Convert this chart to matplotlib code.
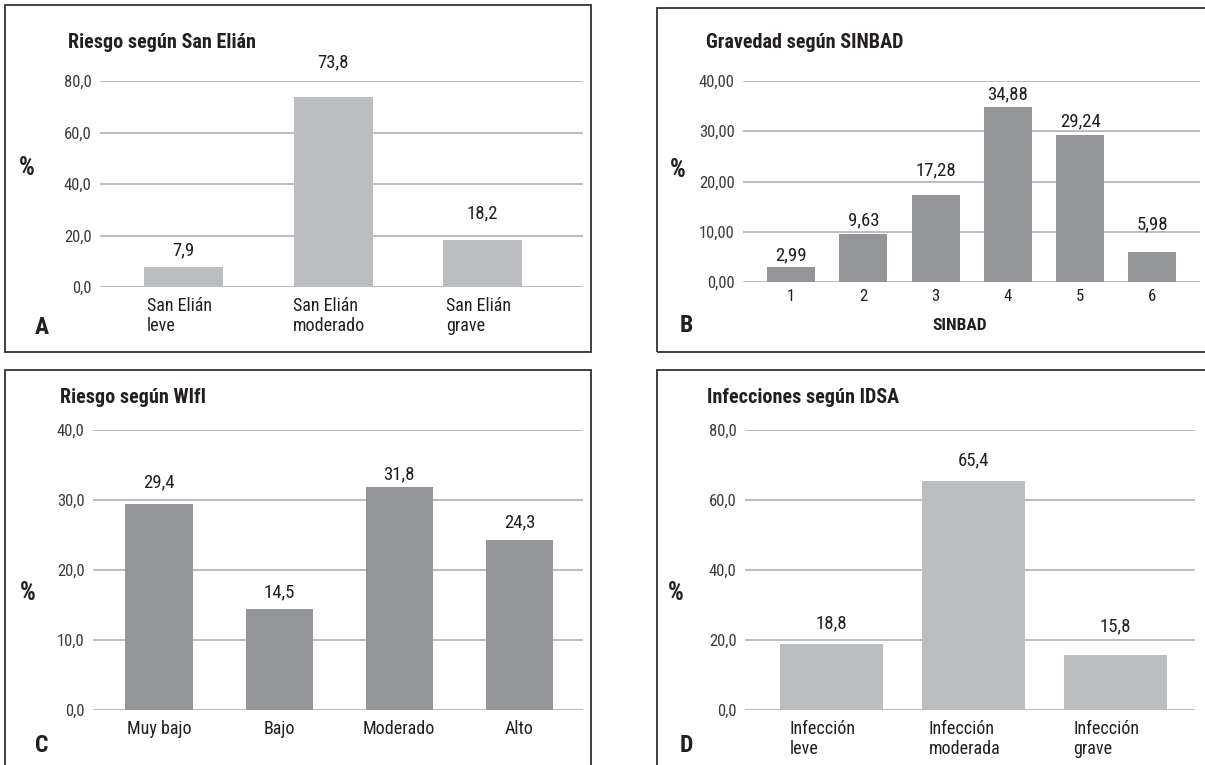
import matplotlib
matplotlib.use("Agg")
import matplotlib.pyplot as plt
from matplotlib.patches import Rectangle
from matplotlib.transforms import ScaledTranslation

plt.rcParams['font.family'] = ['Roboto Condensed', 'Roboto', 'DejaVu Sans']

# ---- data ----
a_title = "Riesgo según San Elián"
a_cats = ["San Elián\nleve", "San Elián\nmoderado", "San Elián\ngrave"]
a_vals = [7.9, 73.8, 18.2]
a_ticks = [0, 20, 40, 60, 80]

b_title = "Gravedad según SINBAD"
b_cats = ["1", "2", "3", "4", "5", "6"]
b_vals = [2.99, 9.63, 17.28, 34.88, 29.24, 5.98]
b_ticks = [0, 10, 20, 30, 40]
b_xlabel = "SINBAD"

c_title = "Riesgo según WIfI"
c_cats = ["Muy bajo", "Bajo", "Moderado", "Alto"]
c_vals = [29.4, 14.5, 31.8, 24.3]
c_ticks = [0, 10, 20, 30, 40]

d_title = "Infecciones según IDSA"
d_cats = ["Infección\nleve", "Infección\nmoderada", "Infección\ngrave"]
d_vals = [18.8, 65.4, 15.8]
d_ticks = [0, 20, 40, 60, 80]

# gap (px) between bar top and its value label, as laid out in the original
a_gaps = [16, 35, 27]
b_gaps = [12, 13, 25, 12, 14, 28]
c_gaps = [22, 16, 13, 18]
d_gaps = [21, 21, 28]

W, H = 1205, 765
fig = plt.figure(figsize=(W / 100, H / 100), dpi=100)

LIGHT = '#bcbdc0'
DARK = '#939598'
GRID = '#a7a9ac'
TXT = '#231f20'
TICK = '#3c3c3c'


def fr(x0, y0, x1, y1):
    return [x0 / W, 1 - y1 / H, (x1 - x0) / W, (y1 - y0) / H]


def box(x0, y0, x1, y1):
    fig.add_artist(Rectangle((x0 / W, 1 - y1 / H), (x1 - x0) / W, (y1 - y0) / H,
                             transform=fig.transFigure, fill=False,
                             edgecolor='#333333', linewidth=1.3))


def ftext(x, y, s, **kw):
    fig.text(x / W, 1 - y / H, s, color=TXT, **kw)


def panel(rect, cats, vals, ticks, color, width, xlim, decimals, gaps, xshift=0):
    ax = fig.add_axes(fr(*rect))
    x = list(range(len(cats)))
    ax.bar(x, vals, width=width, color=color, zorder=3)
    ax.set_xlim(*xlim)
    ax.set_ylim(ticks[0], ticks[-1])
    ax.set_yticks(ticks)
    ax.set_yticklabels([f"{t:.{decimals}f}".replace('.', ',') for t in ticks])
    ax.yaxis.grid(True, color=GRID, linewidth=1.1, zorder=0)
    ax.set_xticks(x)
    ax.set_xticklabels(cats, fontsize=13, color=TXT, multialignment='left',
                       linespacing=1.15)
    ax.tick_params(axis='y', length=0, pad=6, labelsize=12, labelcolor=TICK)
    ax.tick_params(axis='x', length=0, pad=7)
    if xshift:
        off = ScaledTranslation(xshift / 100, 0, fig.dpi_scale_trans)
        for lab in ax.get_xticklabels():
            lab.set_transform(lab.get_transform() + off)
    for s in ax.spines.values():
        s.set_visible(False)
    for xi, v, g in zip(x, vals, gaps):
        ax.annotate(f"{v:.{decimals}f}".replace('.', ','), (xi, v),
                    xytext=(0, g * 0.72), textcoords='offset points',
                    ha='center', va='center', fontsize=13.5, color=TXT,
                    annotation_clip=False)
    return ax


TFS = 14.5
PFS = 18
LFS = 17

# Panel A
box(5, 5, 591, 352)
panel((100, 81, 583, 287), a_cats, a_vals, a_ticks, LIGHT, 0.53, (-0.56, 2.67), 1, a_gaps, xshift=-4)
ftext(68, 42, a_title, fontsize=TFS, fontweight='bold', va='center')
ftext(19, 168, "%", fontsize=PFS, fontweight='bold', va='center')
ftext(35, 327, "A", fontsize=LFS, fontweight='bold', va='center')

# Panel B
box(657, 8, 1215, 352)
axB = panel((743, 81, 1200, 282), b_cats, b_vals, b_ticks, DARK, 0.665, (-0.665, 5.66), 2, b_gaps)
axB.tick_params(axis='x', labelsize=12, pad=5)
ftext(706, 42, b_title, fontsize=TFS, fontweight='bold', va='center')
ftext(960, 325, b_xlabel, fontsize=12.5, fontweight='bold', va='center', ha='center')
ftext(670, 170, "%", fontsize=PFS, fontweight='bold', va='center')
ftext(680, 325, "B", fontsize=LFS, fontweight='bold', va='center')

# Panel C
box(5, 370, 591, 775)
panel((93, 430, 583, 710), c_cats, c_vals, c_ticks, DARK, 0.56, (-0.55, 3.53), 1, c_gaps)
ftext(60, 397, c_title, fontsize=TFS, fontweight='bold', va='center')
ftext(20, 593, "%", fontsize=PFS, fontweight='bold', va='center')
ftext(35, 745, "C", fontsize=LFS, fontweight='bold', va='center')

# Panel D
box(657, 370, 1215, 775)
panel((745, 430, 1195, 710), d_cats, d_vals, d_ticks, LIGHT, 0.72, (-0.61, 2.56), 1, d_gaps, xshift=-9)
ftext(707, 397, d_title, fontsize=TFS, fontweight='bold', va='center')
ftext(668, 593, "%", fontsize=PFS, fontweight='bold', va='center')
ftext(680, 745, "D", fontsize=LFS, fontweight='bold', va='center')

fig.savefig("out.png", dpi=100, facecolor='white')
